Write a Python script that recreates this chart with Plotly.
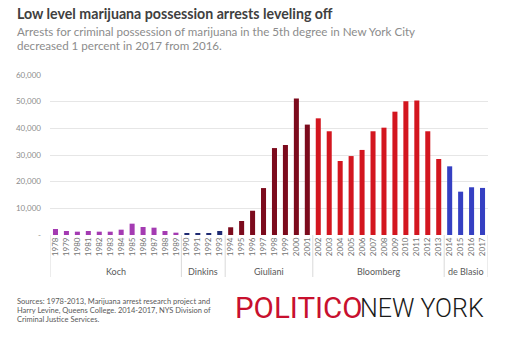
import plotly.graph_objects as go

years = list(range(1978, 2018))
arrests = [2250, 1500, 1250, 1500, 1250, 1250, 2000, 4250, 3000, 2750, 1500, 875,
           750, 500, 500, 1500,
           2900, 5250, 9100, 17600, 32600, 33750, 51150, 41400,
           43750, 38900, 27750, 29600, 31900, 38900, 40250, 46250, 50150, 50400, 38900, 28500,
           25750, 16250, 17900, 17650]
mayors = ["Koch", "Dinkins", "Giuliani", "Bloomberg", "de Blasio"]
mayor_start = [1978, 1990, 1994, 2002, 2014]
mayor_end = [1989, 1993, 2001, 2013, 2017]
mayor_colors = ["#a43bb2", "#1f2a72", "#7c0b1d", "#d3161f", "#3540c2"]

ytick_vals = [0, 10000, 20000, 30000, 40000, 50000, 60000]
ytick_text = ["-", "10,000", "20,000", "30,000", "40,000", "50,000", "60,000"]

title = "Low level marijuana possession arrests leveling off"
subtitle = ["Arrests for criminal possession of marijuana in the 5th degree in New York City",
            "decreased 1 percent in 2017 from 2016."]
sources = ["Sources: 1978-2013, Marijuana arrest research project and",
           "Harry Levine, Queens College. 2014-2017, NYS Division of",
           "Criminal Justice Services."]

W, H = 510, 342
L, R, T, B = 50, 488, 75, 235


def px(x):
    return (x - L) / (R - L)


def py(y):
    return (B - y) / (B - T)


FONT = "Lato"
fig = go.Figure()
for m, s, e, c in zip(mayors, mayor_start, mayor_end, mayor_colors):
    xs = [y for y in years if s <= y <= e]
    vs = [arrests[years.index(y)] for y in xs]
    fig.add_trace(go.Bar(x=xs, y=vs, name=m, marker_color=c, width=0.46,
                         marker_line_width=0, showlegend=False))

shapes = []
annots = []
bounds = [mayor_start[0] - 0.5] + [e + 0.5 for e in mayor_end]
for b in bounds:
    shapes.append(dict(type="line", xref="x", yref="paper", x0=b, x1=b,
                       y0=0, y1=py(277), line=dict(color="#d9d9d9", width=1)))
for m, s, e in zip(mayors, mayor_start, mayor_end):
    annots.append(dict(text=m, xref="x", yref="paper", x=(s + e) / 2, y=py(271),
                       showarrow=False, xanchor="center", yanchor="middle",
                       font=dict(family=FONT, size=9, color="#595959")))

annots.append(dict(text=title, xref="paper", yref="paper", x=px(15), y=py(14),
                   showarrow=False, xanchor="left", yanchor="middle",
                   font=dict(family=FONT, size=14.2, color="#404040", weight="bold")))
for i, line in enumerate(subtitle):
    annots.append(dict(text=line, xref="paper", yref="paper", x=px(15), y=py(31 + 14 * i),
                       showarrow=False, xanchor="left", yanchor="middle",
                       font=dict(family=FONT, size=11.6, color="#8c8c8c")))
for i, line in enumerate(sources):
    annots.append(dict(text=line, xref="paper", yref="paper", x=px(15), y=py(301 + 9.3 * i),
                       showarrow=False, xanchor="left", yanchor="middle",
                       font=dict(family=FONT, size=7.5, color="#595959")))
annots.append(dict(text="POLITICO", xref="paper", yref="paper", x=px(233), y=py(308),
                   showarrow=False, xanchor="left", yanchor="middle",
                   font=dict(family="Roboto", size=29.5, color="#c8102e", weight=400)))
annots.append(dict(text="NEW YORK", xref="paper", yref="paper", x=px(486), y=py(308),
                   showarrow=False, xanchor="right", yanchor="middle",
                   font=dict(family="Roboto", size=25, color="#1a1a1a", weight=300)))

fig.update_layout(
    width=W, height=H,
    margin=dict(l=L, r=W - R, t=T, b=H - B, pad=0),
    paper_bgcolor="white", plot_bgcolor="white",
    barmode="overlay",
    shapes=shapes, annotations=annots,
    font=dict(family=FONT),
    xaxis=dict(range=[1977.5, 2017.5], tickmode="array", tickvals=years,
               ticktext=[str(y) for y in years], tickangle=-90,
               tickfont=dict(family=FONT, size=8, color="#737373"),
               showgrid=False, zeroline=False, showline=False, ticks="",
               fixedrange=True),
    yaxis=dict(range=[0, 60000], tickmode="array", tickvals=ytick_vals,
               ticktext=ytick_text, showgrid=True, gridcolor="#e6e6e6", gridwidth=1,
               zeroline=False, showline=False, ticks="",
               tickfont=dict(family=FONT, size=8, color="#8c8c8c"),
               ticklabelstandoff=8, fixedrange=True),
)

fig.write_html("out.html")
